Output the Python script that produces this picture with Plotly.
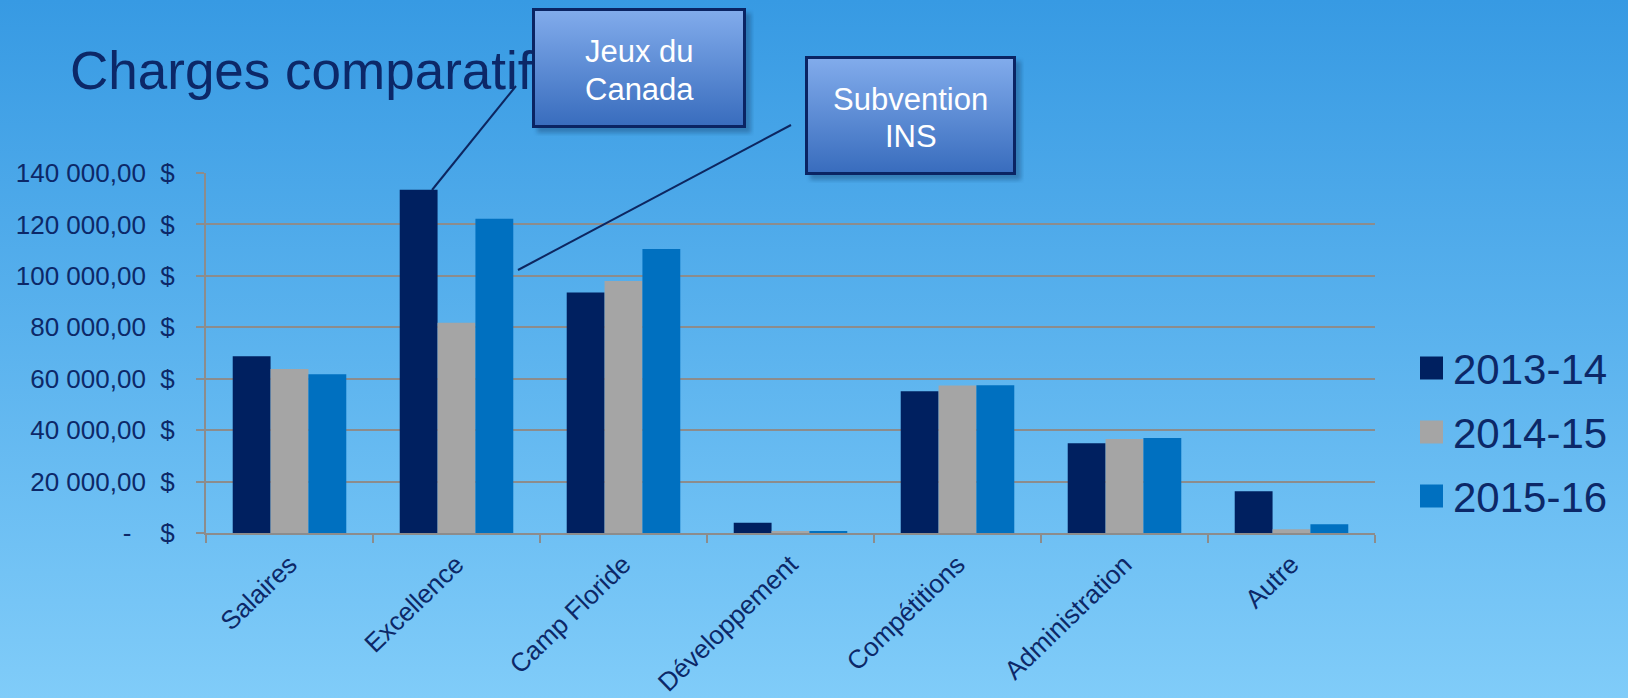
import base64

import plotly.graph_objects as go

CATEGORIES = ["Salaires", "Excellence", "Camp Floride", "Développement",
              "Compétitions", "Administration", "Autre"]
SERIES = ["2013-14", "2014-15", "2015-16"]
VALUES_2013 = [68700, 133500, 93500, 4000, 55100, 34900, 16200]
VALUES_2014 = [63800, 81800, 98000, 400, 57400, 36600, 1500]
VALUES_2015 = [61700, 122200, 110400, 700, 57500, 36900, 3400]
Y_TICKS = [0, 20000, 40000, 60000, 80000, 100000, 120000, 140000]

TITLE = "Charges comparatif"
CALLOUTS = [["Jeux du", "Canada"], ["Subvention", "INS"]]

COLORS = ["#002060", "#A5A5A5", "#0070C0"]
NAVY = "#0c2868"
GRID = "#8c8c8c"
FONT = "Liberation Sans, Arial, sans-serif"

W, H = 1628, 698
L, R, T, B = 206, 253, 173, 165
PW, PH = W - L - R, H - T - B


def px_x(px):
    return (px - L) / PW


def px_y(py):
    return (H - B - py) / PH


def money(v):
    if v == 0:
        return "-\u00a0\u00a0\u00a0\u00a0$"
    s = f"{v:,.2f}".replace(",", " ").replace(".", ",")
    return s + "\u00a0\u00a0$"


def svg_uri(svg):
    return "data:image/svg+xml;base64," + base64.b64encode(svg.encode()).decode()


def box_svg(w, h):
    return f"""<svg xmlns='http://www.w3.org/2000/svg' width='{w + 8}' height='{h + 8}' viewBox='0 0 {w + 8} {h + 8}'>
<defs>
<linearGradient id='g' x1='0' y1='0' x2='0' y2='1'>
<stop offset='0' stop-color='#82acec'/><stop offset='1' stop-color='#386cbd'/>
</linearGradient>
<filter id='f'><feGaussianBlur stdDeviation='2'/></filter>
</defs>
<rect x='5' y='5' width='{w}' height='{h}' fill='#10305a' opacity='0.35' filter='url(#f)'/>
<rect x='1.5' y='1.5' width='{w - 3}' height='{h - 3}' fill='url(#g)' stroke='#0a2463' stroke-width='3'/>
</svg>"""


bg_svg = f"""<svg xmlns='http://www.w3.org/2000/svg' width='{W}' height='{H}' viewBox='0 0 {W} {H}' preserveAspectRatio='none'>
<defs><linearGradient id='b' x1='0' y1='0' x2='0' y2='1'>
<stop offset='0' stop-color='#379ae3'/><stop offset='1' stop-color='#80ccf9'/>
</linearGradient></defs>
<rect width='{W}' height='{H}' fill='url(#b)'/>
</svg>"""

fig = go.Figure()
for name, vals, col in zip(SERIES, [VALUES_2013, VALUES_2014, VALUES_2015], COLORS):
    fig.add_trace(go.Bar(x=CATEGORIES, y=vals, name=name, marker_color=col,
                         marker_line_width=0, showlegend=False))

images = [dict(source=svg_uri(bg_svg), xref="paper", yref="paper",
               x=px_x(0), y=px_y(0), sizex=W / PW, sizey=H / PH,
               xanchor="left", yanchor="top", sizing="stretch", layer="below")]

boxes = [(532, 8, 214, 120), (805, 56, 211, 119)]
for (bx, by, bw, bh) in boxes:
    images.append(dict(source=svg_uri(box_svg(bw, bh)), xref="paper", yref="paper",
                       x=px_x(bx), y=px_y(by), sizex=(bw + 8) / PW, sizey=(bh + 8) / PH,
                       xanchor="left", yanchor="top", sizing="stretch", layer="above"))

shapes = [dict(type="rect", xref="paper", yref="paper",
               x0=px_x(67), x1=px_x(700), y0=px_y(95), y1=px_y(35),
               line_width=0, fillcolor="rgba(0,0,0,0)", layer="below",
               label=dict(text=TITLE, textposition="middle left", padding=0,
                          font=dict(size=53, color=NAVY, family=FONT)))]

# leader lines from the callouts to the Excellence bars
for (x0, y0, x1, y1) in [(516, 86, 432, 190), (791, 125, 518, 270)]:
    shapes.append(dict(type="line", xref="paper", yref="paper",
                       x0=px_x(x0), y0=px_y(y0), x1=px_x(x1), y1=px_y(y1),
                       line=dict(color="#0d2660", width=2), layer="above"))

annotations = []
for lines, (bx, by, bw, bh) in zip(CALLOUTS, boxes):
    cy = by + bh / 2 + 2.5
    for j, line in enumerate(lines):
        annotations.append(dict(text=line, xref="paper", yref="paper",
                                x=px_x(bx + bw / 2), y=px_y(cy + (j - 0.5) * 37.5),
                                showarrow=False, xanchor="center", yanchor="middle",
                                font=dict(size=31, color="white", family=FONT)))

# legend drawn by hand so the swatches can match the large text
for i, (name, col) in enumerate(zip(SERIES, COLORS)):
    cy = 368 + i * 64
    shapes.append(dict(type="rect", xref="paper", yref="paper",
                       x0=px_x(1420), x1=px_x(1443), y0=px_y(cy + 11.5), y1=px_y(cy - 11.5),
                       fillcolor=col, line_width=0, layer="above"))
    annotations.append(dict(text=name, xref="paper", yref="paper",
                            x=px_x(1451), y=px_y(cy + 1), showarrow=False,
                            xanchor="left", yanchor="middle",
                            font=dict(size=42, color=NAVY, family=FONT)))

fig.update_layout(
    width=W, height=H,
    margin=dict(l=L, r=R, t=T, b=B, autoexpand=False),
    paper_bgcolor="#5ab3ee",
    plot_bgcolor="rgba(0,0,0,0)",
    barmode="group", bargap=0.32, bargroupgap=0,
    font=dict(family=FONT, color=NAVY),
    images=images, shapes=shapes, annotations=annotations,
    xaxis=dict(tickson="boundaries", ticks="outside", ticklen=8, tickwidth=2,
               tickcolor=GRID, showline=True, linecolor=GRID, linewidth=2,
               showgrid=False, tickangle=-44, ticklabelstandoff=4,
               tickfont=dict(size=26, color=NAVY)),
    yaxis=dict(range=[0, 140000], tickvals=Y_TICKS, ticktext=[money(v) for v in Y_TICKS],
               ticks="outside", ticklen=8, tickwidth=2, tickcolor=GRID,
               showline=True, linecolor=GRID, linewidth=2,
               showgrid=True, gridcolor=GRID, gridwidth=2, zeroline=False,
               ticklabelstandoff=16, tickfont=dict(size=26, color=NAVY)),
)

fig.write_html("out.html", config={"displayModeBar": False},
               post_script="document.body.style.margin = '0';")
